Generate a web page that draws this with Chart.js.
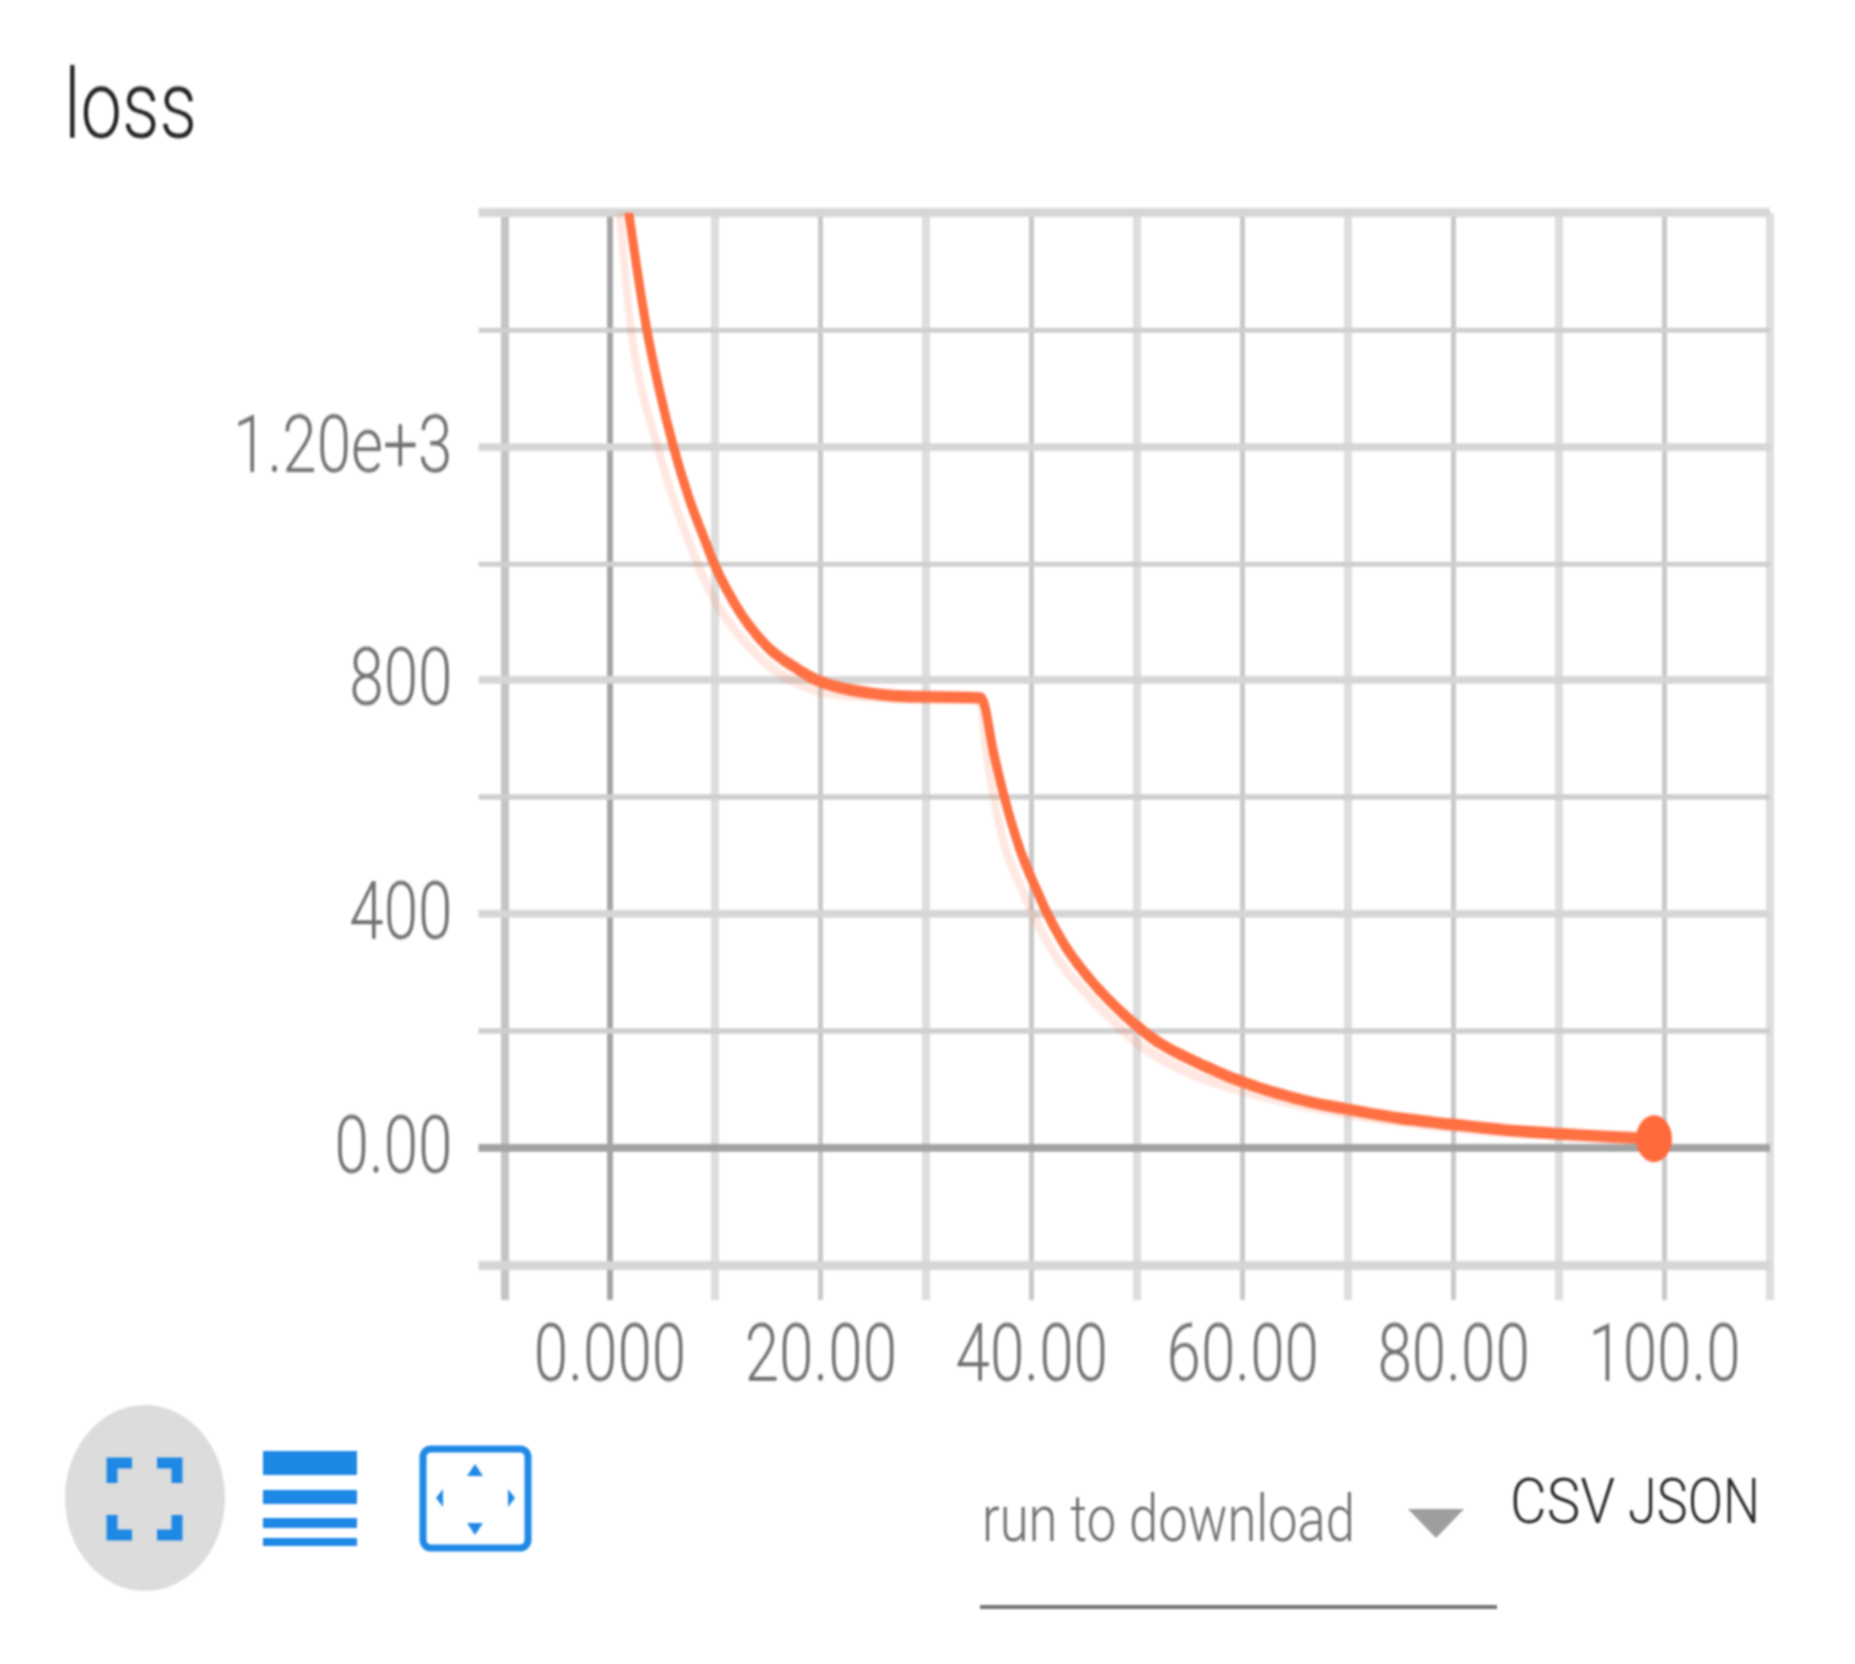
<!DOCTYPE html>
<html><head><meta charset="utf-8">
<script src="https://cdn.jsdelivr.net/npm/chart.js@4"></script>
<style>
html,body{margin:0;padding:0;background:#fff;overflow:hidden}
#page{position:relative;width:1855px;height:1664px;overflow:hidden;filter:blur(1px)}
#wrap{position:absolute;left:0;top:0;width:1855px;height:1280px;transform:scaleY(1.3);transform-origin:0 0}
#over{position:absolute;left:0;top:0}
</style></head><body>
<div id="page">
<div id="wrap"><canvas id="c" width="1855" height="1280" style="width:1855px;height:1280px"></canvas></div>
<svg id="over" width="1855" height="1664" viewBox="0 0 1855 1664">
  <ellipse cx="145" cy="1498" rx="80" ry="93" fill="#dcdcdc"/>
  <g fill="none" stroke="#1e88e5" stroke-width="11">
    <path d="M112 1483V1463H132M157 1463H177V1483M112 1515V1535H132M157 1535H177V1515"/>
  </g>
  <g fill="#1e88e5">
    <rect x="263" y="1451" width="94" height="24"/>
    <rect x="263" y="1490" width="94" height="14"/>
    <rect x="263" y="1518" width="94" height="10"/>
    <rect x="263" y="1538" width="94" height="8"/>
  </g>
  <rect x="423" y="1449" width="105" height="99" rx="8" fill="none" stroke="#1e88e5" stroke-width="7"/>
  <g fill="#1e88e5">
    <path d="M475 1464l8 12h-16zM475 1535l8-12h-16zM436 1498l7-9v18zM515 1498l-7-9v18z"/>
  </g>
  <text transform="translate(982,1541) scale(1,1.3)" font-family="Roboto" font-weight="300" font-size="50" fill="#6f6f6f" textLength="373" lengthAdjust="spacingAndGlyphs">run to download</text>
  <path d="M1408 1509H1464L1436 1538Z" fill="#9e9e9e"/>
  <text transform="translate(1510,1523) scale(1,1.3)" font-family="Roboto" font-weight="300" font-size="48" fill="#2a2a2a" textLength="105" lengthAdjust="spacingAndGlyphs">CSV</text>
  <text transform="translate(1628,1523) scale(1,1.3)" font-family="Roboto" font-weight="300" font-size="48" fill="#2a2a2a" textLength="132" lengthAdjust="spacingAndGlyphs">JSON</text>
  <rect x="980" y="1605" width="517" height="4" fill="#757575"/>
</svg>
</div>
<script>
const chartTitle = "loss";
const xTickValues = [0, 20, 40, 60, 80, 100];
const xTickLabels = ["0.000", "20.00", "40.00", "60.00", "80.00", "100.0"];
const yTickValues = [0, 400, 800, 1200];
const yTickLabels = ["0.00", "400", "800", "1.20e+3"];

const smoothSteps = [0, 1.78, 2.6, 3.45, 4.65, 6.05, 7.5, 9, 9.8, 11, 12.5, 14, 15.5, 18.2, 19.7, 24, 30, 35.2, 36.4, 37.4, 38.9, 40.5, 41.5, 43.3, 45.7, 48.7, 50.3, 52, 55, 60, 65, 70, 75, 80, 85, 90, 95, 99];
const smoothLoss = [1830, 1600, 1500, 1405, 1300, 1198, 1112, 1040, 1003, 958, 912, 876, 848, 815, 800, 780, 772, 770, 675, 600, 510, 440, 400, 342, 285, 229, 204, 181, 152, 113, 85, 66, 51, 40, 31, 24, 19, 16];
const rawSteps = [0, 0.9, 2, 4.5, 8.3, 10.4, 12.8, 15.8, 20, 25, 30, 35.1, 35.6, 36.4, 37.5, 39, 40.3, 42.5, 45, 47.1, 50, 55, 60, 70, 80, 90, 99];
const rawLoss = [1750, 1600, 1400, 1200, 1000, 923, 866, 815, 782, 772, 769, 768, 690, 600, 513, 445, 392, 322, 268, 229, 180, 128, 98, 58, 35, 21, 14];

const smoothPoints = smoothSteps.map((x, i) => ({x, y: smoothLoss[i]}));
const rawPoints = rawSteps.map((x, i) => ({x, y: rawLoss[i]}));

const vColor = v => v === 0 ? '#a6a6a6' : v === -10 ? '#c4c4c4' : (v % 20 === 0 ? '#c9c9c9' : '#dedede');
const vWidth = v => v === 0 ? 6 : v === -10 ? 8 : (v % 20 === 0 ? 5 : 8);
const hEdge = v => v === -200 || v === 1600;
const hColor = v => v === 0 ? '#a2a2a2' : (hEdge(v) || v % 400 === 0 ? '#d6d6d6' : '#cfcfcf');
const hWidth = v => v === 0 ? 6 : (hEdge(v) ? 7 : v % 400 === 0 ? 6 : 4);

new Chart(document.getElementById('c'), {
  type: 'line',
  data: { datasets: [
    { label: 'raw', data: rawPoints, borderColor: 'rgba(255,112,67,.16)', borderWidth: 8, pointRadius: 0, cubicInterpolationMode: 'monotone' },
    { label: 'loss', data: smoothPoints, borderColor: '#ff7043', backgroundColor: '#ff6a3c', borderWidth: 9, cubicInterpolationMode: 'monotone', borderJoinStyle: 'round',
      pointBorderWidth: 0, pointRadius: ctx => ctx.dataIndex === smoothPoints.length - 1 ? 18 : 0 }
  ]},
  options: {
    responsive: false, animation: false, devicePixelRatio: 1,
    layout: { padding: { left: 64, right: 85, top: 43, bottom: 0 } },
    plugins: {
      legend: { display: false }, tooltip: { enabled: false },
      title: { display: true, text: chartTitle, align: 'start', color: '#222', font: { family: 'Roboto', size: 74, weight: '300' }, padding: { top: 0, bottom: 32 } }
    },
    scales: {
      x: {
        type: 'linear', min: -10, max: 110,
        afterBuildTicks: s => { s.ticks = []; for (let v = -10; v <= 110; v += 10) s.ticks.push({value: v}); },
        afterFit: s => { s.height = 307; },
        border: { display: false },
        grid: { color: c => vColor(c.tick.value), lineWidth: c => vWidth(c.tick.value), tickLength: 27 },
        ticks: { autoSkip: false, maxRotation: 0, padding: 9, color: '#707070', font: { family: 'Roboto', size: 62, weight: '300' },
          callback: v => { const i = xTickValues.indexOf(v); return i < 0 ? '' : xTickLabels[i]; } }
      },
      y: {
        type: 'linear', min: -200, max: 1600,
        afterBuildTicks: s => { s.ticks = []; for (let v = -200; v <= 1600; v += 200) s.ticks.push({value: v}); },
        afterFit: s => { s.width = 440.5; },
        border: { display: false },
        grid: { color: c => hColor(c.tick.value), lineWidth: c => hWidth(c.tick.value), tickLength: 26 },
        ticks: { autoSkip: false, padding: 26, labelOffset: 3.5, color: '#707070', font: { family: 'Roboto', size: 62, weight: '300' },
          callback: v => { const i = yTickValues.indexOf(v); return i < 0 ? '' : yTickLabels[i]; } }
      }
    }
  }
});
</script>
</body></html>
